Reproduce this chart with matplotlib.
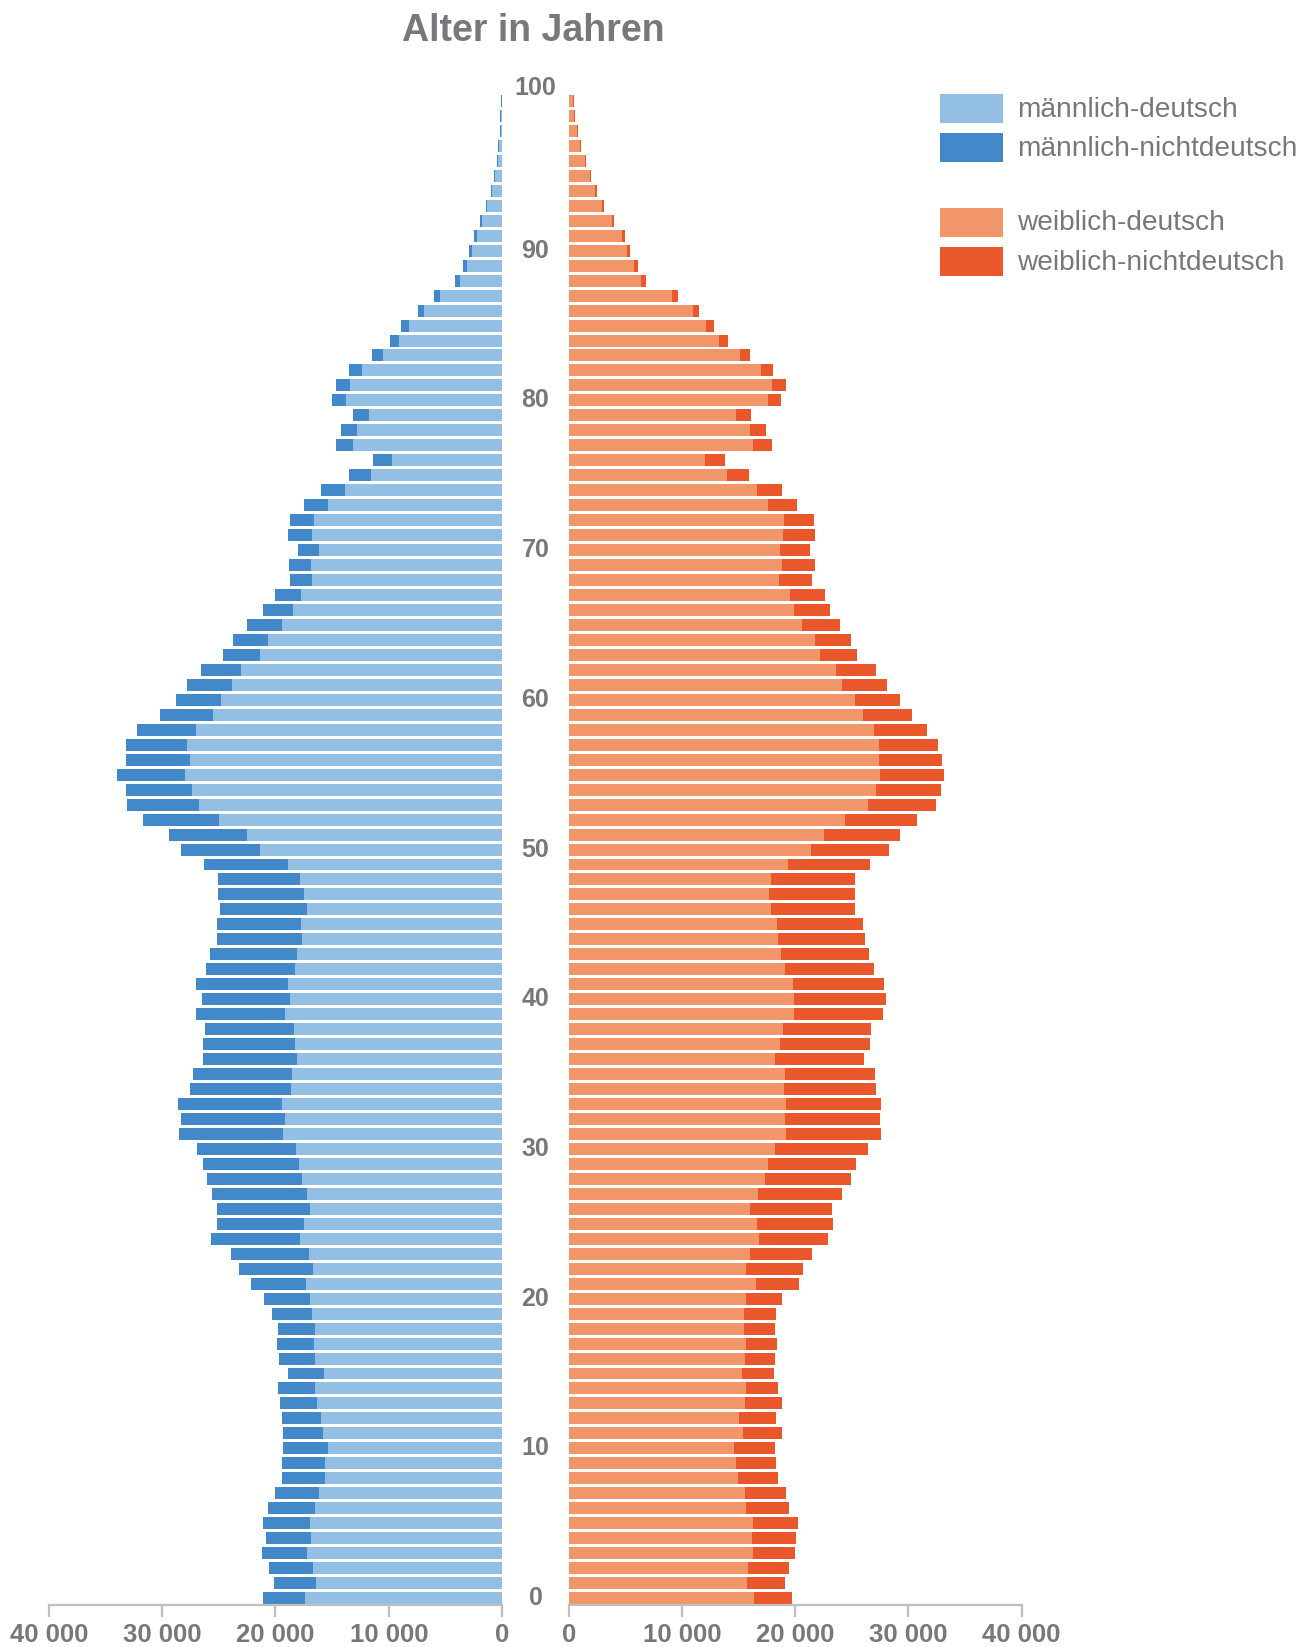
import matplotlib
matplotlib.use("Agg")
import matplotlib.pyplot as plt
from matplotlib.patches import Rectangle
from matplotlib.ticker import FuncFormatter
import matplotlib.transforms as mtrans

plt.rcParams['font.family'] = ['Liberation Sans', 'DejaVu Sans']

ages = list(range(101))

male_de = [17399, 16429, 16694, 17223, 16870, 16958, 16517, 16165, 15635, 15635,
           15371, 15812, 15988, 16341, 16517, 15723, 16517, 16606, 16517, 16782,
           16958, 17311, 16694, 17046, 17840, 17487, 16958, 17223, 17664, 17928,
           18193, 19339, 19163, 19427, 18634, 18546, 18105, 18281, 18369, 19163,
           18722, 18898, 18281, 18105, 17664, 17752, 17223, 17487, 17840, 18898,
           21367, 22513, 24982, 26745, 27363, 27980, 27539, 27804, 27010, 25511,
           24806, 23836, 23042, 21367, 20661, 19427, 18457, 17752, 16782, 16870,
           16165, 16782, 16606, 15371, 13872, 11580, 9732, 13171, 12818, 11760,
           13788, 13436, 12377, 10525, 9114, 8232, 6909, 5498, 3734, 3116,
           2675, 2234, 1793, 1352, 911, 647, 382, 294, 118, 118,
           60]

male_nd = [3703, 3703, 3880, 3968, 3968, 4144, 4144, 3880, 3791, 3791,
           3968, 3527, 3439, 3262, 3262, 3174, 3174, 3262, 3262, 3527,
           4056, 4849, 6525, 6877, 7847, 7671, 8200, 8376, 8376, 8464,
           8729, 9170, 9170, 9170, 8905, 8729, 8288, 8112, 7847, 7847,
           7759, 8112, 7847, 7671, 7494, 7406, 7671, 7583, 7230, 7406,
           6966, 6877, 6701, 6348, 5819, 5996, 5643, 5378, 5202, 4673,
           3968, 3968, 3527, 3262, 3086, 3086, 2645, 2292, 1940, 1940,
           1852, 2116, 2116, 2116, 2116, 1940, 1676, 1499, 1411, 1411,
           1235, 1235, 1147, 970, 794, 706, 529, 529, 441, 353,
           265, 265, 176, 88, 88, 88, 88, 88, 88, 88,
           40]

female_de = [16323, 15705, 15793, 16234, 16146, 16234, 15617, 15529, 14911, 14735,
             14558, 15352, 14999, 15529, 15617, 15264, 15529, 15617, 15440, 15440,
             15617, 16499, 15617, 15970, 16764, 16587, 15970, 16676, 17293, 17558,
             18176, 19146, 19058, 19146, 18970, 19058, 18176, 18617, 18881, 19852,
             19852, 19764, 19058, 18705, 18440, 18352, 17823, 17646, 17823, 19323,
             21352, 22499, 24352, 26381, 27175, 27528, 27440, 27440, 26999, 25940,
             25234, 24087, 23558, 22146, 21705, 20558, 19852, 19499, 18529, 18793,
             18617, 18881, 18970, 17558, 16587, 13940, 12000, 16234, 15970, 14735,
             17558, 17911, 16941, 15088, 13235, 12088, 10941, 9088, 6353, 5735,
             5117, 4676, 3794, 2912, 2294, 1853, 1412, 970, 706, 441,
             353]

female_nd = [3353, 3353, 3617, 3706, 3882, 3970, 3794, 3617, 3529, 3529,
             3617, 3441, 3265, 3265, 2823, 2823, 2647, 2735, 2735, 2823,
             3176, 3794, 5029, 5470, 6088, 6705, 7235, 7411, 7588, 7764,
             8205, 8470, 8470, 8470, 8205, 8029, 7852, 8029, 7852, 7941,
             8205, 8117, 7941, 7852, 7676, 7588, 7411, 7588, 7411, 7323,
             6970, 6794, 6441, 6088, 5735, 5647, 5558, 5206, 4676, 4412,
             4059, 4059, 3617, 3265, 3176, 3353, 3176, 3088, 2912, 2912,
             2647, 2823, 2647, 2559, 2206, 1941, 1765, 1676, 1412, 1323,
             1147, 1235, 1059, 882, 794, 706, 529, 529, 441, 353,
             265, 265, 176, 176, 176, 88, 88, 88, 88, 88,
             88]

x_ticks = [0, 10000, 20000, 30000, 40000]
age_ticks = [0, 10, 20, 30, 40, 50, 60, 70, 80, 90, 100]
series_labels = ["männlich-deutsch", "männlich-nichtdeutsch",
                 "weiblich-deutsch", "weiblich-nichtdeutsch"]
title = "Alter in Jahren"

C_MD = "#94BFE5"
C_MN = "#4388C8"
C_FD = "#F1966A"
C_FN = "#E9572A"
TXT = "#77787B"
AXC = "#BFBFBF"

W, H = 1300, 1647
fig = plt.figure(figsize=(W / 100, H / 100), dpi=100)

bottom = (H - 1604.5) / H
height = 1512.5 / H
axL = fig.add_axes([48.7 / W, bottom, (502.2 - 48.7) / W, height])
axR = fig.add_axes([569.0 / W, bottom, (1021.6 - 569.0) / W, height])

bh = 0.8
axL.barh(ages, male_de, height=bh, color=C_MD, linewidth=0)
axL.barh(ages, male_nd, left=male_de, height=bh, color=C_MN, linewidth=0)
axR.barh(ages, female_de, height=bh, color=C_FD, linewidth=0)
axR.barh(ages, female_nd, left=female_de, height=bh, color=C_FN, linewidth=0)

axL.set_xlim(40000, 0)
axR.set_xlim(0, 40000)

fmt = FuncFormatter(lambda v, p: f"{int(v):,}".replace(",", " "))
for ax in (axL, axR):
    ax.set_ylim(-0.43, 100.6)
    ax.set_yticks([])
    for s in ("top", "left", "right"):
        ax.spines[s].set_visible(False)
    ax.spines["bottom"].set_color(AXC)
    ax.spines["bottom"].set_linewidth(1.6)
    ax.set_xticks(x_ticks)
    ax.xaxis.set_major_formatter(fmt)
    ax.tick_params(axis="x", direction="out", length=8.5, width=1.6,
                   color=AXC, pad=4.5, labelsize=18.5, labelcolor=TXT)
    for lab in ax.get_xticklabels():
        lab.set_fontweight("bold")
    ax.patch.set_alpha(0)

# age labels in the gap between the two halves
tr = mtrans.blended_transform_factory(fig.transFigure, axL.transData)
for a in age_ticks:
    yy = a + 0.9 if a == 100 else a
    fig.text(535.5 / W, yy, str(a), transform=tr, ha="center", va="center",
             fontsize=18, fontweight="bold", color=TXT)

fig.text(533 / W, 1 - 31 / H, title, ha="center", va="center",
         fontsize=27, fontweight="bold", color=TXT)

# legend
leg_tops = [94.3, 133.0, 208.0, 247.0]
leg_cols = [C_MD, C_MN, C_FD, C_FN]
for top, col, lab in zip(leg_tops, leg_cols, series_labels):
    fig.add_artist(Rectangle((940 / W, 1 - (top + 28.5) / H), 63 / W, 28.5 / H,
                             transform=fig.transFigure, color=col, linewidth=0))
    fig.text(1017 / W, 1 - (top + 15.5) / H, lab, ha="left", va="center",
             fontsize=20.2, color=TXT)

fig.savefig("out.png", dpi=100)
